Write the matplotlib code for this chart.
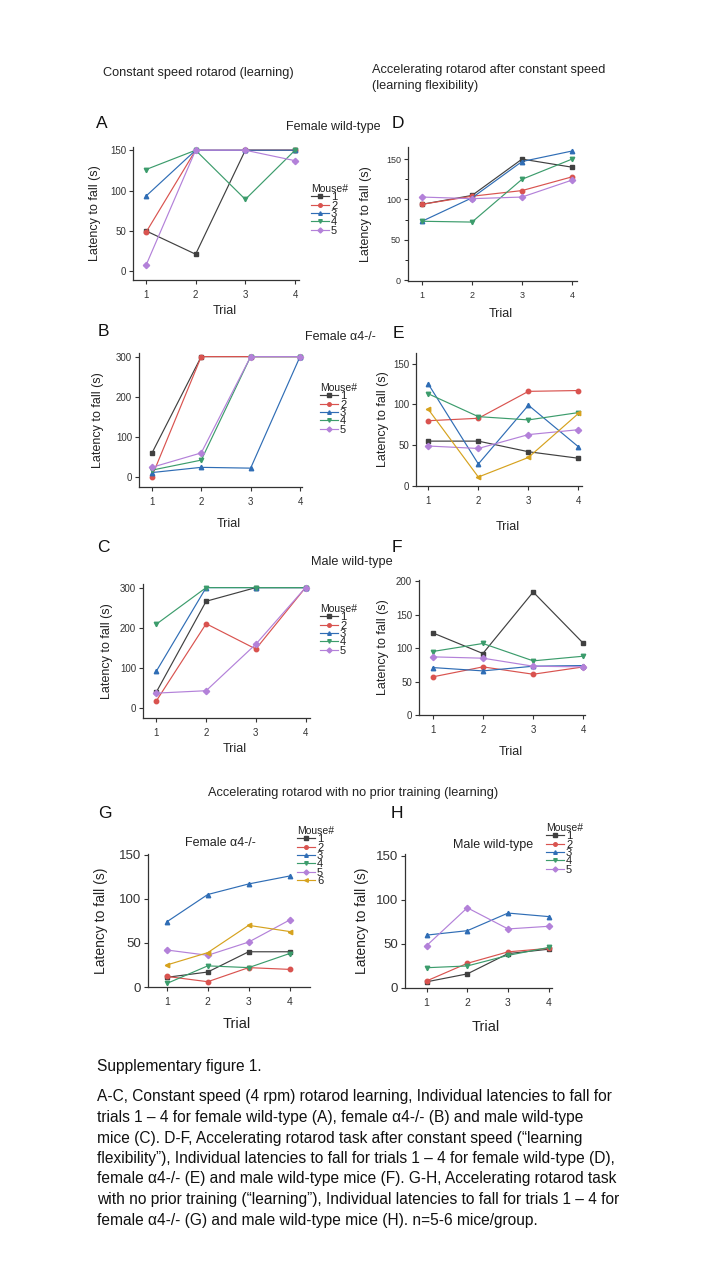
import matplotlib
matplotlib.use('Agg')
import matplotlib.pyplot as plt
from matplotlib.ticker import MultipleLocator

plt.rcParams['font.family'] = ['Liberation Sans', 'DejaVu Sans']

trials = [1, 2, 3, 4]
mouse_ids = ['1', '2', '3', '4', '5', '6']
colors = ['#404040', '#d9534f', '#2f6db5', '#3c9c6c', '#b381d9', '#d6a21e']
markers = ['s', 'o', '^', 'v', 'D', '<']

# constant speed (A-C), one row per mouse
fem_wt_const = [[50, 21, 150, 150], [48, 150, 150, 150], [93, 150, 150, 150],
                [126, 150, 89, 150], [7, 150, 150, 137]]
fem_ko_const = [[59, 300, 300, 300], [1, 300, 300, 300], [11, 24, 22, 300],
                [17, 42, 300, 300], [24, 60, 300, 300]]
male_wt_const = [[40, 266, 300, 300], [18, 210, 147, 300], [92, 300, 300, 300],
                 [209, 300, 300, 300], [37, 43, 159, 300]]

# accelerating after constant speed (D-F)
fem_wt_accel = [[94, 105, 150, 140], [94, 104, 111, 128], [73, 102, 147, 160],
                [73, 72, 125, 150], [103, 101, 103, 124]]
fem_ko_accel = [[55, 55, 42, 34], [80, 83, 116, 117], [125, 27, 99, 48],
                [113, 85, 81, 90], [49, 46, 63, 69], [94, 11, 35, 89]]
male_wt_accel = [[123, 92, 184, 107], [57, 72, 61, 72], [71, 66, 73, 74],
                 [95, 107, 81, 88], [87, 85, 73, 72]]

# accelerating, no prior training (G-H)
fem_ko_naive = [[11, 17, 40, 40], [12, 6, 22, 20], [74, 105, 117, 126],
                [4, 24, 22, 38], [42, 36, 51, 76], [25, 39, 70, 63]]
male_wt_naive = [[7, 16, 39, 44], [8, 28, 41, 45], [60, 65, 85, 81],
                 [23, 25, 37, 46], [48, 91, 67, 70]]

caption_lines = [
    "A-C, Constant speed (4 rpm) rotarod learning, Individual latencies to fall for",
    "trials 1 \u2013 4 for female wild-type (A), female \u03b14-/- (B) and male wild-type",
    "mice (C). D-F, Accelerating rotarod task after constant speed (\u201clearning",
    "flexibility\u201d), Individual latencies to fall for trials 1 \u2013 4 for female wild-type (D),",
    "female \u03b14-/- (E) and male wild-type mice (F). G-H, Accelerating rotarod task",
    "with no prior training (\u201clearning\u201d), Individual latencies to fall for trials 1 \u2013 4 for",
    "female \u03b14-/- (G) and male wild-type mice (H). n=5-6 mice/group.",
]

W, H = 720, 1280
fig = plt.figure(figsize=(7.2, 12.8), dpi=100)
fig.patch.set_facecolor('white')
txt = '#222222'


def fx(x):
    return x / W


def fy(y):
    return 1 - y / H


def panel(l, t, r, b, data, xlim, ylim, yticks, ylab_x, xlab_y,
          tick_fs=7, ytick_fs=None, lab_fs=9, xlab_fs=None, legend_at=None,
          minor=None):
    ax = fig.add_axes([l / W, 1 - b / H, (r - l) / W, (b - t) / H])
    for i, vals in enumerate(data):
        ax.plot(trials, vals, color=colors[i], marker=markers[i], ms=3.2,
                lw=0.85, label=mouse_ids[i], clip_on=False)
    ax.set_xlim(*xlim)
    ax.set_ylim(*ylim)
    ax.set_xticks(trials)
    ax.set_yticks(yticks)
    if minor:
        ax.yaxis.set_minor_locator(MultipleLocator(minor))
    for s in ['top', 'right']:
        ax.spines[s].set_visible(False)
    for s in ['left', 'bottom']:
        ax.spines[s].set_color('#333333')
        ax.spines[s].set_linewidth(0.9)
    ax.tick_params(axis='x', labelsize=tick_fs, length=3, width=0.8,
                   colors='#333333', pad=4)
    ax.tick_params(axis='y', labelsize=ytick_fs or tick_fs, length=3,
                   width=0.8, colors='#333333', pad=2)
    ax.tick_params(axis='y', which='minor', length=2, width=0.6)
    ax.set_ylabel('Latency to fall (s)', fontsize=lab_fs, color=txt)
    ax.set_xlabel('Trial', fontsize=xlab_fs or lab_fs, color=txt)
    ax.yaxis.set_label_coords((ylab_x + 6 - l) / (r - l), 0.5)
    ax.xaxis.set_label_coords(0.55, (b - (xlab_y - 7)) / (b - t))
    if legend_at:
        leg = ax.legend(loc='upper left', bbox_to_anchor=(fx(legend_at[0]), fy(legend_at[1])),
                        bbox_transform=fig.transFigure, frameon=False, title='Mouse#',
                        title_fontsize=7.5, fontsize=8, labelspacing=-0.15,
                        handlelength=1.6, handletextpad=0.2, borderpad=0,
                        borderaxespad=0, alignment='left', markerscale=0.8)
        for tx in leg.get_texts():
            tx.set_color(txt)
        leg.get_title().set_color(txt)
    return ax


# A-C
panel(133, 147, 299, 280, fem_wt_const, (0.74, 4.08), (-11, 154), [0, 50, 100, 150],
      95, 312, legend_at=(311, 184))
panel(139, 353, 302, 487, fem_ko_const, (0.74, 4.04), (-25, 309), [0, 100, 200, 300],
      98, 525, legend_at=(320, 383))
panel(143, 584, 310, 718, male_wt_const, (0.73, 4.09), (-25, 309), [0, 100, 200, 300],
      107, 750, legend_at=(320, 604))
# D-F
panel(408, 147, 577, 281, fem_wt_accel, (0.72, 4.1), (-1, 165), [0, 50, 100, 150],
      366, 315, tick_fs=6.5, minor=25)
panel(416, 353, 582, 486, fem_ko_accel, (0.755, 4.07), (0, 163), [0, 50, 100, 150],
      383, 528)
panel(419, 580, 585, 715, male_wt_accel, (0.73, 4.03), (0, 202), [0, 50, 100, 150, 200],
      383, 753)
# G-H
panel(148, 854, 310, 987, fem_ko_naive, (0.54, 4.5), (0, 151), [0, 50, 100, 150],
      102, 1024, tick_fs=7.5, ytick_fs=9.5, lab_fs=10, xlab_fs=10.5, legend_at=(297, 826))
panel(405, 854, 552, 988, male_wt_naive, (0.47, 4.08), (0, 152), [0, 50, 100, 150],
      363, 1027, tick_fs=7.5, ytick_fs=9.5, lab_fs=10, xlab_fs=10.5, legend_at=(546, 823))

# panel letters
for letter, (x, y) in zip('ABCDEFGH', [(102, 123), (103, 332), (103, 547), (398, 123),
                                        (398, 334), (397, 547), (105, 813), (397, 813)]):
    fig.text(fx(x), fy(y), letter, fontsize=12.5, ha='center', va='center', color='#111111')

# group titles
fig.text(fx(333), fy(127), 'Female wild-type', fontsize=9, ha='center', va='center', color=txt)
fig.text(fx(340), fy(337), 'Female \u03b14-/-', fontsize=9, ha='center', va='center', color=txt)
fig.text(fx(352), fy(562), 'Male wild-type', fontsize=9.2, ha='center', va='center', color=txt)
fig.text(fx(220), fy(843), 'Female \u03b14-/-', fontsize=9, ha='center', va='center', color=txt)
fig.text(fx(493), fy(845), 'Male wild-type', fontsize=9, ha='center', va='center', color=txt)

# section headings
fig.text(fx(103), fy(73), 'Constant speed rotarod (learning)', fontsize=9.2,
         va='center', color=txt)
fig.text(fx(372), fy(70), 'Accelerating rotarod after constant speed', fontsize=9.2,
         va='center', color=txt)
fig.text(fx(372), fy(86), '(learning flexibility)', fontsize=9.2, va='center', color=txt)
fig.text(fx(208), fy(793), 'Accelerating rotarod with no prior training (learning)',
         fontsize=9.2, va='center', color=txt)

# caption
fig.text(fx(97), fy(1066), 'Supplementary figure 1.', fontsize=11.2, va='center', color='#111111')
for k, line in enumerate(caption_lines):
    fig.text(fx(97), fy(1097 + 20.5 * k), line, fontsize=11.2, va='center', color='#111111')

fig.savefig('out.png', dpi=100)
